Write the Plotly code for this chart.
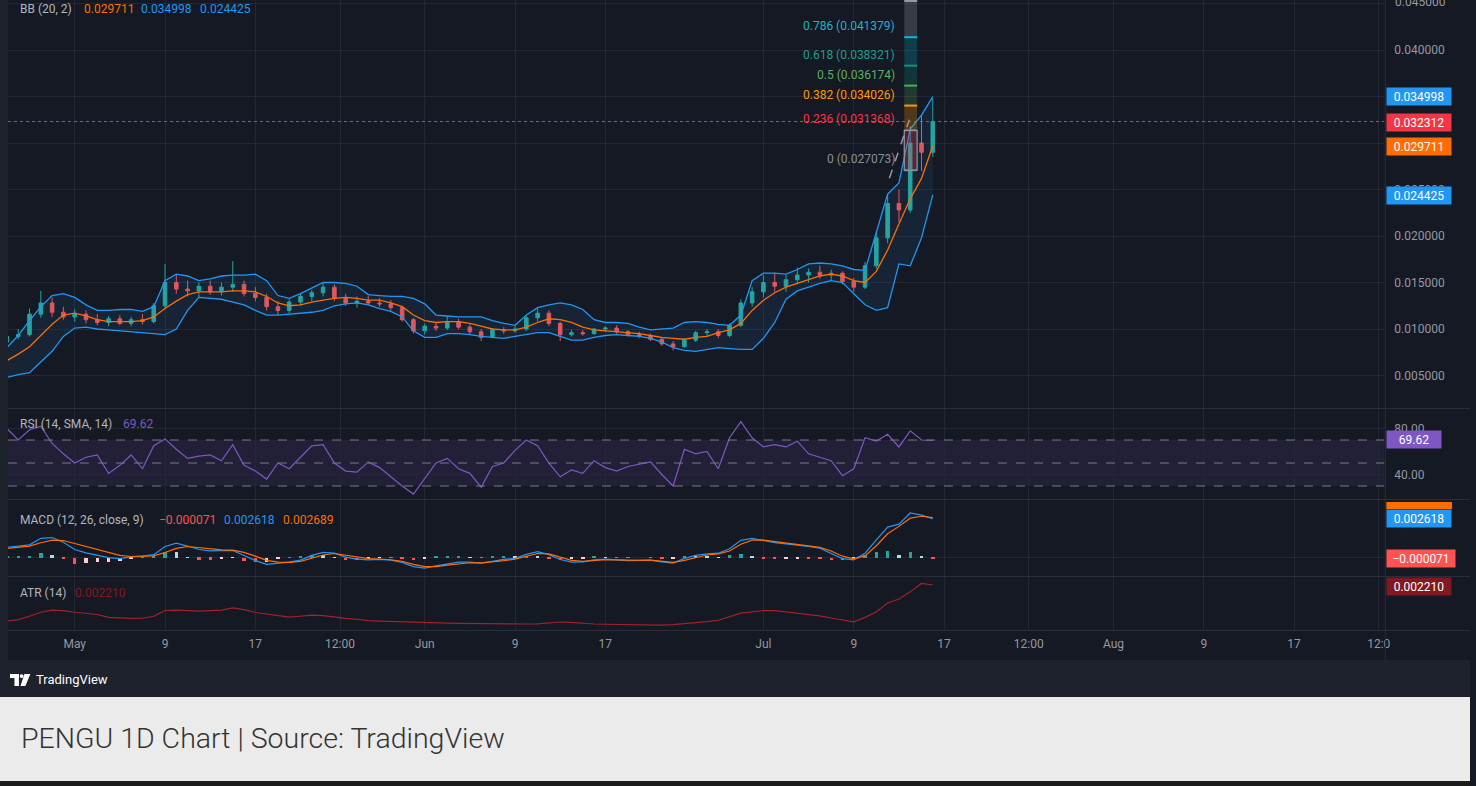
import plotly.graph_objects as go
import pandas as pd

W, H = 1476, 786


def PX(x):
    return x / W


def PY(y):
    return 1 - y / H


# ---------------- data ----------------
dates = pd.date_range("2025-04-25", periods=83, freq="D")

open_ = [0.0086, 0.0092, 0.0094, 0.0116, 0.0128, 0.0118, 0.0113, 0.0116, 0.0110, 0.0107,
         0.0111, 0.0106, 0.0110, 0.0108, 0.0125, 0.0150, 0.0143, 0.0141, 0.0146, 0.0140,
         0.0145, 0.0148, 0.0138, 0.0134, 0.0124, 0.0120, 0.0129, 0.0135, 0.0139, 0.0145,
         0.0133, 0.0128, 0.0130, 0.0128, 0.0127, 0.0123, 0.0110, 0.0098, 0.0103, 0.0101,
         0.0108, 0.0102, 0.0097, 0.0091, 0.0099, 0.0098, 0.0100, 0.0112, 0.0117, 0.0106,
         0.0094, 0.0096, 0.0095, 0.0100, 0.0101, 0.0097, 0.0094, 0.0092, 0.0089, 0.0084,
         0.0081, 0.0088, 0.0096, 0.0097, 0.0093, 0.0104, 0.0128, 0.0140, 0.0150, 0.0146,
         0.0153, 0.0158, 0.0161, 0.0158, 0.0160, 0.0151, 0.0145, 0.0168, 0.0198, 0.0235,
         0.0228, 0.0300, 0.0290]
high = [0.0095, 0.0100, 0.0122, 0.0141, 0.0134, 0.0124, 0.0121, 0.0120, 0.0116, 0.0114,
        0.0115, 0.0113, 0.0116, 0.0128, 0.0170, 0.0158, 0.0152, 0.0150, 0.0152, 0.0150,
        0.0173, 0.0152, 0.0145, 0.0138, 0.0130, 0.0132, 0.0138, 0.0142, 0.0150, 0.0148,
        0.0138, 0.0135, 0.0136, 0.0133, 0.0131, 0.0125, 0.0112, 0.0106, 0.0107, 0.0114,
        0.0111, 0.0105, 0.0100, 0.0101, 0.0102, 0.0103, 0.0114, 0.0122, 0.0120, 0.0108,
        0.0099, 0.0099, 0.0101, 0.0103, 0.0104, 0.0099, 0.0097, 0.0095, 0.0091, 0.0087,
        0.0090, 0.0098, 0.0100, 0.0100, 0.0106, 0.0132, 0.0145, 0.0158, 0.0160, 0.0158,
        0.0166, 0.0165, 0.0168, 0.0164, 0.0162, 0.0155, 0.0172, 0.0205, 0.0245, 0.0250,
        0.0318, 0.0330, 0.0348]
low = [0.0084, 0.0089, 0.0092, 0.0112, 0.0113, 0.0110, 0.0108, 0.0106, 0.0104, 0.0103,
       0.0104, 0.0103, 0.0105, 0.0106, 0.0122, 0.0138, 0.0135, 0.0134, 0.0137, 0.0136,
       0.0140, 0.0135, 0.0130, 0.0120, 0.0115, 0.0117, 0.0125, 0.0130, 0.0135, 0.0130,
       0.0125, 0.0123, 0.0126, 0.0124, 0.0120, 0.0108, 0.0095, 0.0094, 0.0098, 0.0099,
       0.0100, 0.0094, 0.0087, 0.0090, 0.0095, 0.0096, 0.0098, 0.0108, 0.0103, 0.0087,
       0.0092, 0.0093, 0.0094, 0.0097, 0.0095, 0.0092, 0.0090, 0.0087, 0.0082, 0.0077,
       0.0080, 0.0086, 0.0092, 0.0090, 0.0091, 0.0102, 0.0124, 0.0134, 0.0140, 0.0140,
       0.0148, 0.0150, 0.0154, 0.0152, 0.0148, 0.0140, 0.0143, 0.0165, 0.0192, 0.0215,
       0.0225, 0.0270, 0.0285]
close = [0.0092, 0.0094, 0.0116, 0.0128, 0.0118, 0.0113, 0.0116, 0.0110, 0.0107, 0.0111,
         0.0106, 0.0110, 0.0108, 0.0125, 0.0150, 0.0143, 0.0141, 0.0146, 0.0140, 0.0145,
         0.0148, 0.0138, 0.0134, 0.0124, 0.0120, 0.0129, 0.0135, 0.0139, 0.0145, 0.0133,
         0.0128, 0.0130, 0.0128, 0.0127, 0.0123, 0.0110, 0.0098, 0.0103, 0.0101, 0.0108,
         0.0102, 0.0097, 0.0091, 0.0099, 0.0098, 0.0100, 0.0112, 0.0117, 0.0106, 0.0094,
         0.0096, 0.0095, 0.0100, 0.0101, 0.0097, 0.0094, 0.0092, 0.0089, 0.0084, 0.0081,
         0.0088, 0.0096, 0.0097, 0.0093, 0.0104, 0.0128, 0.0140, 0.0150, 0.0146, 0.0153,
         0.0158, 0.0161, 0.0158, 0.0160, 0.0151, 0.0145, 0.0168, 0.0198, 0.0235, 0.0228,
         0.0300, 0.0290, 0.032312]

bb_upper = [0.0080, 0.0093, 0.0109, 0.0124, 0.0136, 0.0138, 0.0134, 0.0126, 0.0120, 0.0120,
            0.0121, 0.0121, 0.0119, 0.0124, 0.0152, 0.0159, 0.0157, 0.0152, 0.0154, 0.0157,
            0.0158, 0.0158, 0.0159, 0.0152, 0.0136, 0.0133, 0.0138, 0.0144, 0.0150, 0.0150,
            0.0149, 0.0146, 0.0137, 0.0136, 0.0135, 0.0135, 0.0133, 0.0127, 0.0115, 0.0114,
            0.0113, 0.0113, 0.0113, 0.0109, 0.0106, 0.0104, 0.0115, 0.0123, 0.0126, 0.0128,
            0.0126, 0.0121, 0.0110, 0.0107, 0.0107, 0.0106, 0.0102, 0.0099, 0.0100, 0.0101,
            0.0107, 0.0108, 0.0107, 0.0105, 0.0104, 0.0115, 0.0152, 0.0160, 0.0160, 0.0159,
            0.0164, 0.0170, 0.0171, 0.0170, 0.0168, 0.0164, 0.0163, 0.0205, 0.0245, 0.0257,
            0.0315, 0.0330, 0.034998]
bb_mid = [0.0066, 0.0073, 0.0081, 0.0093, 0.0105, 0.0115, 0.0117, 0.0114, 0.0110, 0.0108,
          0.0108, 0.0108, 0.0109, 0.0113, 0.0122, 0.0130, 0.0137, 0.0140, 0.0140, 0.0140,
          0.0141, 0.0141, 0.0140, 0.0135, 0.0128, 0.0125, 0.0126, 0.0129, 0.0131, 0.0133,
          0.0134, 0.0133, 0.0131, 0.0131, 0.0128, 0.0124, 0.0115, 0.0109, 0.0107, 0.0108,
          0.0108, 0.0106, 0.0103, 0.0100, 0.0099, 0.0099, 0.0102, 0.0107, 0.0111, 0.0110,
          0.0107, 0.0102, 0.0099, 0.0098, 0.0097, 0.0096, 0.0095, 0.0093, 0.0091, 0.0090,
          0.0089, 0.0091, 0.0092, 0.0096, 0.0099, 0.0106, 0.0120, 0.0131, 0.0139, 0.0145,
          0.0149, 0.0153, 0.0157, 0.0159, 0.0157, 0.0152, 0.0150, 0.0162, 0.0185, 0.0213,
          0.0240, 0.0262, 0.029711]
bb_lower = [0.0048, 0.0051, 0.0053, 0.0065, 0.0076, 0.0092, 0.0101, 0.0102, 0.0100, 0.0099,
            0.0098, 0.0097, 0.0096, 0.0095, 0.0094, 0.0100, 0.0120, 0.0134, 0.0133, 0.0132,
            0.0129, 0.0126, 0.0120, 0.0115, 0.0115, 0.0116, 0.0117, 0.0118, 0.0120, 0.0125,
            0.0127, 0.0128, 0.0126, 0.0122, 0.0119, 0.0113, 0.0098, 0.0091, 0.0091, 0.0095,
            0.0095, 0.0094, 0.0092, 0.0091, 0.0090, 0.0092, 0.0094, 0.0096, 0.0096, 0.0092,
            0.0088, 0.0088, 0.0091, 0.0093, 0.0094, 0.0093, 0.0092, 0.0090, 0.0086, 0.0080,
            0.0077, 0.0076, 0.0078, 0.0080, 0.0079, 0.0078, 0.0078, 0.0090, 0.0107, 0.0132,
            0.0141, 0.0145, 0.0149, 0.0152, 0.0150, 0.0138, 0.0126, 0.0120, 0.0123, 0.0170,
            0.0168, 0.0198, 0.024425]

rsi = [80, 70, 79, 82, 67, 58, 50, 55, 57, 41,
       48, 57, 45, 65, 71, 62, 54, 56, 57, 52,
       66, 48, 43, 36, 50, 45, 55, 65, 66, 50,
       43, 42, 51, 46, 38, 30, 23, 36, 50, 54,
       45, 41, 29, 47, 50, 61, 70, 65, 50, 38,
       44, 41, 52, 46, 43, 47, 49, 51, 40, 30,
       62, 58, 60, 45, 72, 86, 72, 64, 66, 64,
       69, 58, 55, 52, 39, 45, 72, 69, 75, 64,
       78, 70, 69.62]

macd = [0.00070, 0.00078, 0.00086, 0.00130, 0.00135, 0.00104, 0.00055, 0.00032, 0.00018, 0.00000,
        -0.00006, 0.00005, 0.00010, 0.00020, 0.00075, 0.00098, 0.00078, 0.00055, 0.00045, 0.00048,
        0.00048, 0.00015, -0.00020, -0.00045, -0.00038, -0.00030, -0.00016, 0.00015, 0.00036, 0.00030,
        0.00004, -0.00010, -0.00015, -0.00012, -0.00016, -0.00032, -0.00060, -0.00070, -0.00055, -0.00040,
        -0.00030, -0.00030, -0.00037, -0.00025, -0.00012, -0.00005, 0.00022, 0.00040, 0.00020, -0.00012,
        -0.00030, -0.00028, -0.00015, -0.00010, -0.00016, -0.00020, -0.00018, -0.00016, -0.00028, -0.00036,
        -0.00005, 0.00015, 0.00025, 0.00030, 0.00060, 0.00116, 0.00130, 0.00115, 0.00101, 0.00092,
        0.00085, 0.00075, 0.00063, 0.00030, -0.00006, -0.00014, 0.00030, 0.00120, 0.00205, 0.00225,
        0.00300, 0.00285, 0.002618]
signal = [0.00062, 0.00070, 0.00078, 0.00100, 0.00118, 0.00115, 0.00095, 0.00070, 0.00050, 0.00030,
          0.00015, 0.00008, 0.00008, 0.00012, 0.00035, 0.00062, 0.00075, 0.00068, 0.00058, 0.00052,
          0.00050, 0.00035, 0.00010, -0.00018, -0.00030, -0.00032, -0.00025, -0.00005, 0.00018, 0.00028,
          0.00018, 0.00004, -0.00006, -0.00010, -0.00014, -0.00024, -0.00045, -0.00060, -0.00060, -0.00050,
          -0.00040, -0.00034, -0.00035, -0.00030, -0.00020, -0.00010, 0.00008, 0.00028, 0.00025, 0.00005,
          -0.00018, -0.00025, -0.00020, -0.00014, -0.00015, -0.00018, -0.00018, -0.00017, -0.00023, -0.00032,
          -0.00018, 0.00002, 0.00018, 0.00026, 0.00045, 0.00090, 0.00118, 0.00118, 0.00108, 0.00098,
          0.00090, 0.00080, 0.00069, 0.00045, 0.00010, -0.00008, 0.00012, 0.00080, 0.00160, 0.00210,
          0.00265, 0.00278, 0.002689]

atr = [0.00058, 0.00065, 0.00080, 0.00098, 0.00108, 0.00105, 0.00098, 0.00093, 0.00088, 0.00075,
       0.00071, 0.00070, 0.00071, 0.00080, 0.00106, 0.00108, 0.00105, 0.00103, 0.00105, 0.00108,
       0.00118, 0.00110, 0.00097, 0.00090, 0.00080, 0.00076, 0.00080, 0.00085, 0.00083, 0.00075,
       0.00070, 0.00066, 0.00060, 0.00058, 0.00056, 0.00055, 0.00053, 0.00051, 0.00050, 0.00049,
       0.00048, 0.00047, 0.00047, 0.00047, 0.00046, 0.00045, 0.00045, 0.00046, 0.00050, 0.00054,
       0.00052, 0.00048, 0.00045, 0.00044, 0.00043, 0.00042, 0.00041, 0.00040, 0.00040, 0.00042,
       0.00046, 0.00050, 0.00056, 0.00062, 0.00078, 0.00094, 0.00100, 0.00106, 0.00105, 0.00100,
       0.00095, 0.00090, 0.00082, 0.00072, 0.00062, 0.00055, 0.00075, 0.00100, 0.00140, 0.00158,
       0.00190, 0.00228, 0.00221]

fib_names = ["0", "0.236", "0.382", "0.5", "0.618", "0.786", "1"]
fib_prices = [0.027073, 0.031368, 0.034026, 0.036174, 0.038321, 0.041379, 0.045274]
fib_x = ["2025-07-13 11:20", "2025-07-14 14:40"]
trend_x = ["2025-07-12 03:40", "2025-07-13 22:00"]
trend_y = [0.0262, 0.0325]

last_price = 0.032312

tick_vals = ["2025-05-01", "2025-05-09", "2025-05-17", "2025-05-24 12:00", "2025-06-01",
             "2025-06-09", "2025-06-17", "2025-07-01", "2025-07-09", "2025-07-17",
             "2025-07-24 12:00", "2025-08-01", "2025-08-09", "2025-08-17", "2025-08-24 12:00"]
tick_text = ["May", "9", "17", "12:00", "Jun", "9", "17", "Jul", "9", "17",
             "12:00", "Aug", "9", "17", "12:0"]
price_ticks = [0.005, 0.010, 0.015, 0.020, 0.025, 0.030, 0.035, 0.040, 0.045]
price_tick_text = ["0.005000", "0.010000", "0.015000", "0.020000", "0.025000", "", "",
                   "0.040000", ""]

# ---------------- style ----------------
BG = "#151924"
GRID = "#232733"
SEP = "#2a2e39"
TXT = "#9598a1"
FONT = "Roboto"
BLUE = "#2196f3"
ORANGE = "#ff6d00"
GREEN = "#26a69a"
RED = "#ef5350"

fig = go.Figure()

# Bollinger Bands
fig.add_trace(go.Scatter(x=dates, y=bb_upper, mode="lines",
                         line=dict(color=BLUE, width=1.3), hoverinfo="skip"))
fig.add_trace(go.Scatter(x=dates, y=bb_lower, mode="lines",
                         line=dict(color=BLUE, width=1.3), fill="tonexty",
                         fillcolor="rgba(33,150,243,0.09)", hoverinfo="skip"))
fig.add_trace(go.Scatter(x=dates, y=bb_mid, mode="lines",
                         line=dict(color=ORANGE, width=1.3), hoverinfo="skip"))

# Candles
fig.add_trace(go.Candlestick(
    x=dates, open=open_, high=high, low=low, close=close,
    increasing=dict(line=dict(color=GREEN, width=1), fillcolor=GREEN),
    decreasing=dict(line=dict(color=RED, width=1), fillcolor=RED),
    whiskerwidth=0, hoverinfo="skip"))

# Fib trend line
fig.add_trace(go.Scatter(x=trend_x, y=trend_y, mode="lines",
                         line=dict(color="#9598a1", width=1.5, dash="dash"), hoverinfo="skip"))

# RSI
fig.add_trace(go.Scatter(x=dates, y=rsi, yaxis="y2", mode="lines",
                         line=dict(color="#7e57c2", width=1.2), hoverinfo="skip"))

# MACD
hist = [m - s for m, s in zip(macd, signal)]
hist_colors = []
for k, h in enumerate(hist):
    prev = hist[k - 1] if k > 0 else h
    if h >= 0:
        hist_colors.append("#26a69a" if h >= prev else "#b2dfdb")
    else:
        hist_colors.append("#ff5252" if h <= prev else "#ffcdd2")
fig.add_trace(go.Bar(x=dates, y=hist, yaxis="y3", marker=dict(color=hist_colors, line=dict(width=0)),
                     width=0.3 * 86400000, hoverinfo="skip"))
fig.add_trace(go.Scatter(x=dates, y=macd, yaxis="y3", mode="lines",
                         line=dict(color=BLUE, width=1.2), hoverinfo="skip"))
fig.add_trace(go.Scatter(x=dates, y=signal, yaxis="y3", mode="lines",
                         line=dict(color=ORANGE, width=1.2), hoverinfo="skip"))

# ATR
fig.add_trace(go.Scatter(x=dates, y=atr, yaxis="y4", mode="lines",
                         line=dict(color="#a3202d", width=1.2), hoverinfo="skip"))

x_dom = [PX(8), PX(1390)]
common_y = dict(side="right", anchor="x", zeroline=False, showline=False, ticks="",
                gridcolor=GRID, tickfont=dict(family=FONT, size=12, color=TXT),
                ticklabelstandoff=9, fixedrange=True)

fig.update_layout(
    width=W, height=H, margin=dict(l=0, r=0, t=0, b=0),
    paper_bgcolor=BG, plot_bgcolor=BG, showlegend=False,
    font=dict(family=FONT, size=12, color=TXT),
    hovermode=False, dragmode=False, bargap=0, boxgap=0.55,
    xaxis=dict(domain=x_dom, anchor="y4", type="date",
               range=["2025-04-25 02:10", "2025-08-24 23:50"],
               tickvals=tick_vals, ticktext=tick_text, showgrid=True, gridcolor=GRID,
               zeroline=False, showline=False, ticks="", rangeslider=dict(visible=False),
               tickfont=dict(family=FONT, size=12, color=TXT), ticklabelstandoff=5,
               fixedrange=True),
    yaxis=dict(domain=[PY(408), 1], range=[0.001505, 0.04538], tickvals=price_ticks,
               ticktext=price_tick_text, showgrid=True, **common_y),
    yaxis2=dict(domain=[PY(499), PY(409)], range=[18.7, 97], tickvals=[40, 80],
                ticktext=["40.00", "80.00"], showgrid=True, **common_y),
    yaxis3=dict(domain=[PY(576), PY(500)], range=[-0.00123, 0.00387], tickvals=[0],
                showticklabels=False, showgrid=True, **common_y),
    yaxis4=dict(domain=[PY(630), PY(577)], range=[0.00018, 0.00257],
                showticklabels=False, showgrid=False, **common_y),
)

shapes = []
# RSI band and guides
shapes.append(dict(type="rect", xref="paper", yref="y2", x0=x_dom[0], x1=x_dom[1], y0=30, y1=70,
                   fillcolor="rgba(126,87,194,0.12)", line=dict(width=0), layer="below"))
for lv in (70, 50, 30):
    shapes.append(dict(type="line", xref="paper", yref="y2", x0=x_dom[0], x1=x_dom[1], y0=lv, y1=lv,
                       line=dict(color="#787b86", width=1, dash="dash")))

# Current price dotted line
shapes.append(dict(type="line", xref="paper", yref="y", x0=x_dom[0], x1=x_dom[1],
                   y0=last_price, y1=last_price, line=dict(color="#f23645", width=1, dash="dot")))

# Fibonacci column
fib_fill = ["rgba(242,54,69,0.28)", "rgba(255,152,0,0.25)", "rgba(76,175,80,0.22)",
            "rgba(8,153,129,0.22)", "rgba(0,188,212,0.22)", "rgba(120,123,134,0.35)"]
fib_line = ["#787b86", "#f23645", "#ff9800", "#4caf50", "#089981", "#00bcd4", "#9598a1"]
for k in range(6):
    shapes.append(dict(type="rect", xref="x", yref="y", x0=fib_x[0], x1=fib_x[1],
                       y0=fib_prices[k], y1=fib_prices[k + 1], fillcolor=fib_fill[k],
                       line=dict(width=0)))
for k in range(7):
    shapes.append(dict(type="line", xref="x", yref="y", x0=fib_x[0], x1=fib_x[1],
                       y0=fib_prices[k], y1=fib_prices[k], line=dict(color=fib_line[k], width=2)))
shapes.append(dict(type="rect", xref="x", yref="y", x0=fib_x[0], x1=fib_x[1],
                   y0=fib_prices[0], y1=fib_prices[1], fillcolor="rgba(0,0,0,0)",
                   line=dict(color="#9598a1", width=1.2)))

# Pane separators and frames
for ypx in (408.5, 499.5, 576.5, 630.5):
    shapes.append(dict(type="line", xref="paper", yref="paper", x0=0, x1=1, y0=PY(ypx), y1=PY(ypx),
                       line=dict(color=SEP, width=1)))
shapes.append(dict(type="line", xref="paper", yref="paper", x0=PX(1391), x1=PX(1391), y0=PY(660), y1=1,
                   line=dict(color=SEP, width=1)))
shapes.append(dict(type="rect", xref="paper", yref="paper", x0=0, x1=PX(8), y0=PY(660), y1=1,
                   fillcolor="#1e222d", line=dict(width=0)))
# footer
shapes.append(dict(type="rect", xref="paper", yref="paper", x0=0, x1=1, y0=PY(697), y1=PY(660),
                   fillcolor="#1e222d", line=dict(width=0)))
# TradingView logo glyph
shapes.append(dict(type="rect", xref="paper", yref="paper", x0=PX(10), x1=PX(19), y0=PY(678), y1=PY(674),
                   fillcolor="#ffffff", line=dict(width=0)))
shapes.append(dict(type="rect", xref="paper", yref="paper", x0=PX(14.5), x1=PX(19), y0=PY(686), y1=PY(674),
                   fillcolor="#ffffff", line=dict(width=0)))
shapes.append(dict(type="circle", xref="paper", yref="paper", x0=PX(19.8), x1=PX(23.6), y0=PY(678),
                   y1=PY(674.2), fillcolor="#ffffff", line=dict(width=0)))
shapes.append(dict(type="path", xref="paper", yref="paper",
                   path=f"M {PX(24.5)} {PY(674)} L {PX(30.5)} {PY(674)} L {PX(25.5)} {PY(686)} L {PX(20.5)} {PY(686)} Z",
                   fillcolor="#ffffff", line=dict(width=0)))
# caption band
shapes.append(dict(type="rect", xref="paper", yref="paper", x0=0, x1=1, y0=PY(781), y1=PY(697),
                   fillcolor="#ebebeb", line=dict(width=0)))
shapes.append(dict(type="rect", xref="paper", yref="paper", x0=0, x1=1, y0=0, y1=PY(781),
                   fillcolor="#1c1c1c", line=dict(width=0)))
# orange macd sliver label (mostly hidden)
shapes.append(dict(type="rect", xref="paper", yref="paper", x0=PX(1392), x1=PX(1458), y0=PY(509),
                   y1=PY(502), fillcolor="#ff6d00", line=dict(width=0)))
fig.update_layout(shapes=shapes)

ann = []


def txt(x, y, s, color, size=12, anchor="left", **kw):
    ann.append(dict(x=PX(x), y=PY(y), xref="paper", yref="paper", text=s, showarrow=False,
                    xanchor=anchor, yanchor="middle",
                    font=dict(family=FONT, size=size, color=color, **kw)))


def tag(y, s, color, w=62):
    ann.append(dict(x=PX(1392), y=PY(y), xref="paper", yref="paper", text=s, showarrow=False,
                    xanchor="left", yanchor="middle", bgcolor=color, width=w, height=15,
                    borderpad=1, align="center",
                    font=dict(family=FONT, size=12, color="#ffffff")))


# top price tick (partly cut off by the top edge, as in the reference)
txt(1399, 2, "0.045000", TXT)

# pane legends
txt(18, 9, "BB (20, 2)", "#b2b5be")
txt(82, 9, f"{bb_mid[-1]:.6f}", ORANGE)
txt(140, 9, f"{bb_upper[-1]:.6f}", BLUE)
txt(199, 9, f"{bb_lower[-1]:.6f}", BLUE)
txt(18, 424, "RSI (14, SMA, 14)", "#b2b5be")
txt(121, 424, f"{rsi[-1]:.2f}", "#7e57c2")
txt(18, 520, "MACD (12, 26, close, 9)", "#b2b5be")
txt(158, 520, "\u2212" + f"{abs(hist[-1]):.6f}", "#ff5252")
txt(223, 520, f"{macd[-1]:.6f}", BLUE)
txt(282, 520, f"{signal[-1]:.6f}", ORANGE)
txt(18, 593, "ATR (14)", "#b2b5be")
txt(73, 593, f"{atr[-1]:.6f}", "#801922")

# fib labels
fib_txt_col = ["#8b8e97", "#f23645", "#ff9800", "#5fae62", "#1e9e8a", "#1fb2c6"]
for k in range(6):
    ann.append(dict(x=PX(901), y=fib_prices[k], xref="paper", yref="y",
                    text=f"{fib_names[k]} ({fib_prices[k]:.6f})", showarrow=False,
                    xanchor="right", yanchor="bottom", yshift=2,
                    font=dict(family=FONT, size=12, color=fib_txt_col[k])))

# right-axis value tags
tag(97, f"{bb_upper[-1]:.6f}", BLUE)
tag(122, f"{last_price:.6f}", "#f23645")
tag(146, f"{bb_mid[-1]:.6f}", ORANGE)
tag(195, f"{bb_lower[-1]:.6f}", BLUE)
tag(439, f"{rsi[-1]:.2f}", "#7e57c2", w=52)
tag(518, f"{macd[-1]:.6f}", BLUE)
tag(558, "\u2212" + f"{abs(hist[-1]):.6f}", "#ff5252", w=66)
tag(586, f"{atr[-1]:.6f}", "#801922")

# footer texts
txt(34, 679, "TradingView", "#ffffff", size=13)
txt(19, 738, "PENGU 1D Chart | Source: TradingView", "#333333", size=28.5, weight=300)

fig.update_layout(annotations=ann)

page_fix = (
    "var d=document.documentElement,b=document.body;"
    "d.style.margin='0';d.style.padding='0';d.style.overflow='hidden';"
    "b.style.margin='0';b.style.padding='0';b.style.overflow='hidden';"
    "d.style.background='#151924';b.style.background='#151924';"
)
fig.write_html("out.html", config={"displayModeBar": False}, post_script=page_fix)
